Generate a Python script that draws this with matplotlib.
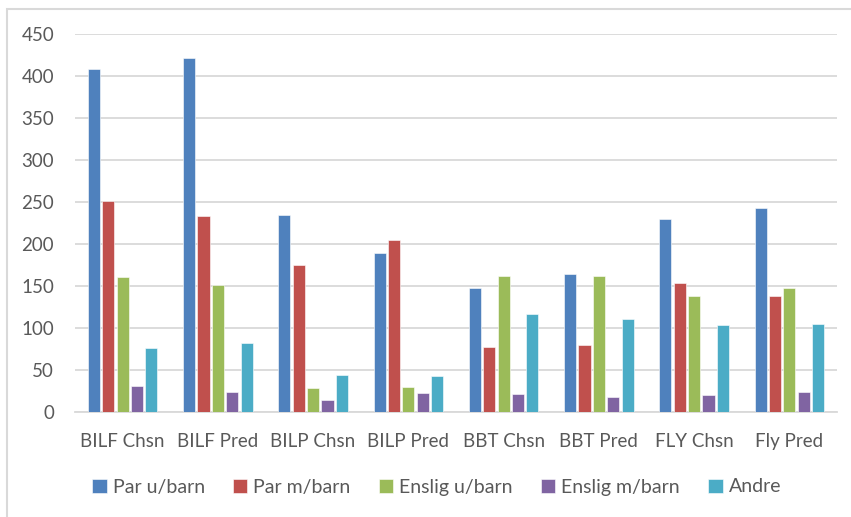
import numpy as np
import matplotlib
matplotlib.use('Agg')
from matplotlib import pyplot as plt
from matplotlib.patches import Rectangle

categories = ['BILF Chsn', 'BILF Pred', 'BILP Chsn', 'BILP Pred',
              'BBT Chsn', 'BBT Pred', 'FLY Chsn', 'Fly Pred']
series_names = ['Par u/barn', 'Par m/barn', 'Enslig u/barn', 'Enslig m/barn', 'Andre']
par_u_barn = [408, 422, 234, 189, 147, 164, 230, 243]
par_m_barn = [251, 233, 175, 205, 77, 79, 153, 138]
enslig_u_barn = [161, 151, 28, 29, 162, 162, 138, 147]
enslig_m_barn = [31, 23, 14, 22, 21, 18, 20, 23]
andre = [76, 82, 44, 42, 116, 110, 103, 104]
colors = ['#4f81bd', '#c0504d', '#9bbb59', '#8064a2', '#4bacc6']

plt.rcParams['font.family'] = ['Lato', 'DejaVu Sans']
fig = plt.figure(figsize=(8.51, 5.17), dpi=100)
W, H = 851, 517
ax = fig.add_axes([75 / W, 1 - 411.7 / H, (837 - 75) / W, (411.7 - 34) / H])

# chart frame (cropped at right and bottom)
fig.patches.append(Rectangle((6.5 / W, -0.1), 2.0, 1 - 8.5 / H + 0.1,
                             transform=fig.transFigure, fill=False,
                             edgecolor='#d9d9d9', linewidth=1.5))

x = np.arange(len(categories))
pitch = 0.151
width = 0.128
data = [par_u_barn, par_m_barn, enslig_u_barn, enslig_m_barn, andre]
for i, (vals, name, c) in enumerate(zip(data, series_names, colors)):
    ax.bar(x + (i - 2) * pitch, vals, width, color=c, label=name,
           edgecolor='white', linewidth=0.4, zorder=3)

ax.set_xlim(-0.5, len(categories) - 0.5)
ax.set_ylim(0, 450)
ax.set_yticks(range(0, 451, 50))
ax.set_xticks(x)
ax.set_xticklabels(categories)
ax.grid(axis='y', color='#d9d9d9', linewidth=1.3, zorder=0)
for s in ['top', 'right', 'left']:
    ax.spines[s].set_visible(False)
ax.spines['bottom'].set_color('#d9d9d9')
ax.spines['bottom'].set_linewidth(1.3)
ax.tick_params(axis='both', length=0, labelsize=13.5, colors='#595959')
ax.tick_params(axis='y', pad=15)
ax.tick_params(axis='x', pad=15)

fig.legend(loc='center', bbox_to_anchor=(0.513, 1 - 487 / H), ncol=5, frameon=False,
           fontsize=14, handlelength=0.75, handleheight=0.75, handletextpad=0.3,
           columnspacing=1.45, labelcolor='#595959')

plt.savefig('out.png', dpi=100)
